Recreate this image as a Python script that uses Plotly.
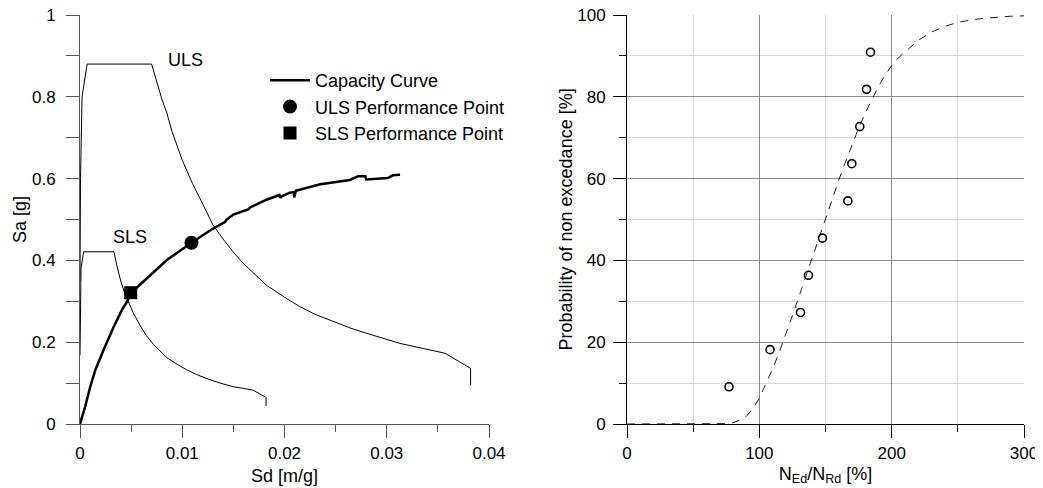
import plotly.graph_objects as go

# ---------------- Left chart data ----------------
cap_sd = [0, 0.0005, 0.001, 0.0015, 0.0023, 0.0033, 0.0041, 0.0046, 0.005, 0.0065,
          0.0085, 0.0109, 0.0129, 0.0142, 0.0143, 0.015, 0.0165, 0.0166, 0.0183,
          0.0195, 0.0196, 0.0197, 0.0205, 0.0209, 0.02095, 0.0211, 0.0235, 0.0264,
          0.0272, 0.0279, 0.0280, 0.0301, 0.0306, 0.0313]
cap_sa = [0, 0.042, 0.091, 0.132, 0.181, 0.238, 0.279, 0.299, 0.321, 0.356,
          0.401, 0.443, 0.476, 0.494, 0.499, 0.512, 0.525, 0.529, 0.549,
          0.560, 0.553, 0.556, 0.5655, 0.567, 0.554, 0.570, 0.586, 0.5966,
          0.606, 0.606, 0.598, 0.6015, 0.608, 0.6096]

uls_sd = [0, 0.00005, 0.0002, 0.0007, 0.0070, 0.0075, 0.0080, 0.0085, 0.0090,
          0.0100, 0.0110, 0.0120, 0.0130, 0.0140, 0.0150, 0.0160, 0.0170, 0.0182,
          0.0200, 0.0215, 0.0230, 0.0248, 0.0265, 0.0280, 0.0297, 0.0313, 0.0335,
          0.0357, 0.0382, 0.0382]
uls_sa = [0.35, 0.60, 0.80, 0.88, 0.88, 0.835, 0.795, 0.760, 0.715,
          0.645, 0.588, 0.538, 0.487, 0.452, 0.420, 0.392, 0.368, 0.340,
          0.310, 0.287, 0.268, 0.250, 0.234, 0.222, 0.209, 0.197, 0.185,
          0.173, 0.136, 0.095]

sls_sd = [0, 0.00003, 0.0001, 0.00035, 0.00332, 0.0036, 0.0040, 0.0044, 0.0047,
          0.0052, 0.0059, 0.0065, 0.0072, 0.0080, 0.0085, 0.0095, 0.0104, 0.0114,
          0.0124, 0.0137, 0.0150, 0.0160, 0.0169, 0.0182, 0.0182]
sls_sa = [0.168, 0.29, 0.38, 0.421, 0.421, 0.388, 0.348, 0.318, 0.300,
          0.272, 0.240, 0.216, 0.194, 0.173, 0.162, 0.146, 0.133, 0.121,
          0.111, 0.100, 0.091, 0.087, 0.083, 0.065, 0.044]

uls_pp = [0.0109, 0.443]
sls_pp = [0.00496, 0.321]

# ---------------- Right chart data ----------------
fit_x = [0, 50, 75, 80, 85, 90, 95, 100, 105, 110, 115, 120, 125, 130, 135, 140,
         145, 150, 155, 160, 165, 170, 175, 180, 185, 190, 195, 200, 205, 210,
         220, 230, 240, 250, 260, 270, 280, 290, 300]
fit_y = [0, 0, 0.1, 0.3, 0.9, 1.8, 3.7, 6.3, 9.8, 13.5, 17.5, 21.8, 26.5, 31.2, 36.0, 40.8,
         45.6, 50.3, 55.0, 59.6, 64.0, 68.3, 72.3, 76.0, 79.4, 82.5, 85.3, 87.6, 89.5, 91.0,
         93.8, 95.8, 97.2, 98.2, 98.8, 99.2, 99.5, 99.7, 99.8]

obs_x = [77.1, 108.1, 131.1, 137.1, 147.7, 166.9, 169.9, 175.9, 181.0, 184.0]
obs_y = [9.09, 18.18, 27.27, 36.36, 45.45, 54.55, 63.64, 72.73, 81.82, 90.91]

FONT = "Liberation Sans, Arial, sans-serif"

# The page body adds an 8px offset; figure is sized to fit the 1043x488 window.
W, H = 1035, 480
ML, MT = 72, 7            # plot area left / top in figure pixels
PW, PH = 944, 409         # plot area width / height
MR = W - ML - PW
MB = H - MT - PH

fig = go.Figure()

fig.add_trace(go.Scatter(x=uls_sd, y=uls_sa, mode="lines", line=dict(color="black", width=1),
                         showlegend=False, xaxis="x", yaxis="y"))
fig.add_trace(go.Scatter(x=sls_sd, y=sls_sa, mode="lines", line=dict(color="black", width=1),
                         showlegend=False, xaxis="x", yaxis="y"))
fig.add_trace(go.Scatter(x=cap_sd, y=cap_sa, mode="lines", name="Capacity Curve",
                         line=dict(color="black", width=2.5), xaxis="x", yaxis="y"))
fig.add_trace(go.Scatter(x=[uls_pp[0]], y=[uls_pp[1]], mode="markers", name="ULS Performance Point",
                         marker=dict(symbol="circle", size=14, color="black"), xaxis="x", yaxis="y"))
fig.add_trace(go.Scatter(x=[sls_pp[0]], y=[sls_pp[1]], mode="markers", name="SLS Performance Point",
                         marker=dict(symbol="square", size=13, color="black"), xaxis="x", yaxis="y"))

fig.add_trace(go.Scatter(x=fit_x, y=fit_y, mode="lines", line=dict(color="#222", width=1, dash="8px,7px"),
                         showlegend=False, xaxis="x2", yaxis="y2"))
fig.add_trace(go.Scatter(x=obs_x, y=obs_y, mode="markers", showlegend=False,
                         marker=dict(symbol="circle-open", size=8, color="black", line=dict(width=1.6)),
                         xaxis="x2", yaxis="y2"))

fig.add_annotation(x=0.0084, y=0.89, text="ULS", showarrow=False, xanchor="left", yanchor="middle",
                   xref="x", yref="y", font=dict(size=18, color="black", family=FONT))
fig.add_annotation(x=0.00303, y=0.458, text="SLS", showarrow=False, xanchor="left", yanchor="middle",
                   xref="x", yref="y", font=dict(size=18, color="black", family=FONT))
# right y-axis title
fig.add_annotation(x=(557 - ML) / PW, y=0.5, text="Probability of non excedance [%]", showarrow=False,
                   xref="paper", yref="paper", xanchor="center", yanchor="middle", textangle=-90,
                   font=dict(size=18, color="black", family=FONT))

axis_common = dict(showgrid=False, zeroline=False, ticks="outside", ticklen=13, tickwidth=1,
                   showline=True, linewidth=1, automargin=False, ticklabeloverflow="allow",
                   tickfont=dict(size=17, color="black", family=FONT))

fig.update_layout(
    width=W, height=H,
    margin=dict(l=ML, r=MR, t=MT, b=MB, autoexpand=False),
    paper_bgcolor="white", plot_bgcolor="white",
    font=dict(family=FONT, color="black", size=17),
    xaxis=dict(domain=[0, 409 / PW], range=[0, 0.04], dtick=0.01, tick0=0,
               linecolor="#555", tickcolor="#555", ticklabelstandoff=1,
               minor=dict(dtick=0.005, ticklen=7, ticks="outside", tickcolor="#555"),
               title=dict(text="Sd [m/g]", font=dict(size=18), standoff=6), anchor="y",
               **axis_common),
    yaxis=dict(domain=[0, 1], range=[0, 1], dtick=0.2, tick0=0,
               linecolor="#555", tickcolor="#555", ticklabelstandoff=7,
               minor=dict(dtick=0.1, ticklen=13, ticks="outside", tickcolor="#555"),
               title=dict(text="Sa [g]", font=dict(size=18), standoff=0), anchor="x",
               **axis_common),
    xaxis2=dict(domain=[547 / PW, 1], range=[0, 300], dtick=100, tick0=0,
                showgrid=True, gridcolor="#8c8c8c", gridwidth=1,
                zeroline=False, ticks="outside", ticklen=13, tickwidth=1, tickcolor="black",
                showline=True, linewidth=1, linecolor="black", ticklabelstandoff=1,
                automargin=False, ticklabeloverflow="allow",
                tickfont=dict(size=17, color="black", family=FONT),
                minor=dict(dtick=50, ticklen=7, ticks="outside", tickcolor="black",
                           showgrid=True, gridcolor="#d9d9d9", gridwidth=1),
                title=dict(text="N<sub>Ed</sub>/N<sub>Rd</sub> [%]", font=dict(size=18), standoff=4),
                anchor="y2"),
    yaxis2=dict(domain=[0, 1], range=[0, 100], dtick=20, tick0=0,
                showgrid=True, gridcolor="#8c8c8c", gridwidth=1,
                zeroline=False, ticks="outside", ticklen=13, tickwidth=1, tickcolor="black",
                showline=True, linewidth=1, linecolor="black", ticklabelstandoff=4,
                automargin=False, ticklabeloverflow="allow",
                tickfont=dict(size=17, color="black", family=FONT),
                minor=dict(dtick=10, ticklen=7, ticks="outside", tickcolor="black",
                           showgrid=True, gridcolor="#d9d9d9", gridwidth=1),
                anchor="x2"),
    legend=dict(x=(257 - ML) / PW, y=1 - (54 - MT) / PH, xanchor="left", yanchor="top",
                bgcolor="rgba(0,0,0,0)", font=dict(size=18, family=FONT, color="black"),
                itemwidth=40, tracegroupgap=0),
)

fig.write_html("out.html")
